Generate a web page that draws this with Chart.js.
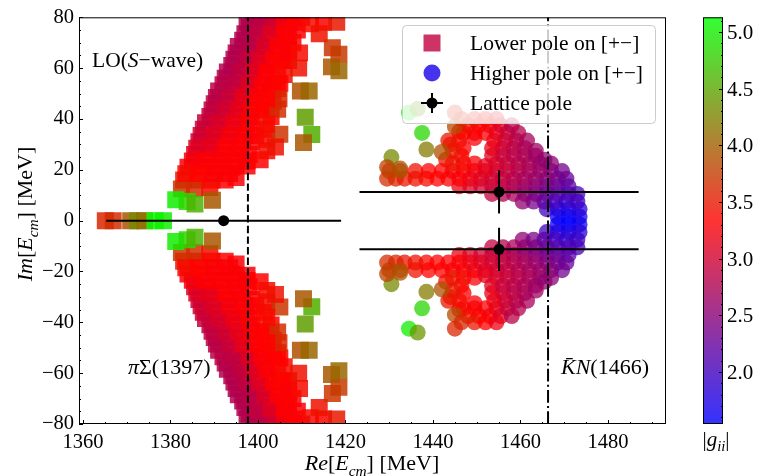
<!DOCTYPE html>
<html>
<head>
<meta charset="utf-8">
<script src="https://cdn.jsdelivr.net/npm/chart.js@4.4.0/dist/chart.umd.min.js"></script>
<style>
html, body { margin: 0; padding: 0; background: #fff; }
</style>
</head>
<body>
<canvas id="chart" width="758" height="476"></canvas>
<script>
// lower pole on [+-], upper half plane (the conjugate pole is at -Im)
var lowerRe = [1399, 1402, 1405, 1407.5, 1398, 1401, 1404, 1407, 1396.5, 1399.5, 1402.5, 1405.5,
    1395, 1398, 1401, 1404, 1394, 1397, 1400, 1403, 1392.5, 1395.5, 1398.5, 1401.5,
    1391, 1394, 1397, 1400.5, 1390, 1393, 1396, 1399, 1389, 1392, 1395, 1398.5,
    1387.5, 1390.5, 1394, 1397.5, 1386.5, 1389.5, 1393, 1396.5, 1398.5,
    1385.5, 1388.5, 1392, 1395.5, 1398, 1384, 1387, 1390.5, 1394, 1397.5,
    1383, 1386, 1389.5, 1392.5, 1395, 1382.5, 1385.5, 1389,
    1397.5, 1400.5, 1403.5, 1406, 1408.5, 1397, 1400, 1403, 1406,
    1395.5, 1398.5, 1401.5, 1404.5, 1407, 1394.5, 1397.5, 1400.5, 1403.5, 1406,
    1393, 1396, 1399, 1402, 1392, 1395, 1398, 1401, 1403.5,
    1390.5, 1393.5, 1396.5, 1399.5, 1389.5, 1392.5, 1395.5, 1398.5, 1401,
    1388, 1391, 1394.5, 1398, 1387, 1390, 1393.5, 1397, 1399.5,
    1386, 1389, 1392.5, 1396, 1385, 1388, 1391.5, 1395, 1397.5,
    1383.5, 1386.5, 1390, 1393.5,
    1404.5, 1403, 1402, 1405.5, 1406.5,
    1403.5, 1404.5, 1406, 1407, 1408, 1409, 1410, 1401.5, 1400.5, 1402, 1403,
    1381.2, 1383.8, 1385.6, 1389.6,
    1412, 1415, 1418, 1414, 1417, 1418.5, 1416.8, 1418.5, 1407, 1409.5, 1409.3,
    1405, 1409.7, 1411.7, 1404.5, 1404.8, 1410.8, 1412.3, 1410.4, 1405, 1402, 1404, 1402, 1402];
var lowerIm = [80, 80, 80, 80, 76, 76, 76, 76, 71, 71, 71, 71,
    66, 66, 66, 66, 61, 61, 61, 61, 56, 56, 56, 56,
    51, 51, 51, 51, 46, 46, 46, 46, 41, 41, 41, 41,
    36, 36, 36, 36, 31, 31, 31, 31, 31,
    26, 26, 26, 26, 26, 21, 21, 21, 21, 21.5,
    16, 16, 16, 16, 17, 12.5, 12.5, 13,
    78, 78, 78, 78, 78, 73.5, 73.5, 73.5, 73.5,
    68.5, 68.5, 68.5, 68.5, 68.5, 63.5, 63.5, 63.5, 63.5, 63.5,
    58.5, 58.5, 58.5, 58.5, 53.5, 53.5, 53.5, 53.5, 53.5,
    48.5, 48.5, 48.5, 48.5, 43.5, 43.5, 43.5, 43.5, 43.5,
    38.5, 38.5, 38.5, 38.5, 33.5, 33.5, 33.5, 33.5, 33.5,
    28.5, 28.5, 28.5, 28.5, 23.5, 23.5, 23.5, 23.5, 23.5,
    18.5, 18.5, 18.5, 18.5,
    57, 51, 44, 63, 73,
    47, 52, 57.5, 63, 70, 75, 80, 36, 24, 32, 41,
    8.2, 7.5, 6.5, 8,
    77.5, 78, 78, 73.5, 68, 65.5, 60.5, 59, 67, 66, 60,
    54, 51, 51, 43.8, 48, 40.7, 33.9, 30.7, 34, 27.5, 29, 38, 48];
var lowerG = [2.8, 2.9, 3.1, 3.3, 2.8, 2.9, 3.1, 3.3, 2.8, 2.9, 3.15, 3.3,
    2.8, 2.9, 3.1, 3.3, 2.8, 2.95, 3.2, 3.3, 2.8, 2.9, 3.1, 3.3,
    2.85, 2.95, 3.2, 3.3, 2.85, 2.95, 3.15, 3.3, 2.9, 3.0, 3.2, 3.3,
    2.95, 3.05, 3.25, 3.3, 3.0, 3.1, 3.25, 3.3, 3.35,
    3.1, 3.2, 3.3, 3.3, 3.3, 3.3, 3.3, 3.3, 3.35, 3.3,
    3.5, 3.45, 3.4, 3.35, 3.3, 3.7, 3.65, 3.4,
    2.8, 2.85, 3.0, 3.25, 3.35, 2.8, 2.9, 3.1, 3.3,
    2.8, 2.85, 3.05, 3.3, 3.35, 2.8, 2.9, 3.1, 3.3, 3.35,
    2.8, 2.9, 3.1, 3.3, 2.85, 2.9, 3.1, 3.3, 3.3,
    2.85, 2.95, 3.15, 3.3, 2.9, 3.0, 3.15, 3.3, 3.35,
    2.95, 3.05, 3.2, 3.3, 3.0, 3.1, 3.25, 3.3, 3.3,
    3.1, 3.15, 3.3, 3.3, 3.25, 3.3, 3.3, 3.3, 3.3,
    3.4, 3.35, 3.3, 3.3,
    3.3, 3.3, 3.35, 3.35, 3.3,
    3.35, 3.35, 3.4, 3.35, 3.35, 3.3, 3.3, 3.35, 3.35, 3.4, 3.35,
    5.0, 4.85, 4.6, 3.95,
    3.4, 3.35, 3.5, 3.45, 3.7, 3.75, 3.95, 4.05, 3.3, 3.4, 3.45,
    3.35, 3.9, 4.05, 3.65, 3.6, 4.45, 4.55, 3.95, 3.7, 3.4, 3.45, 3.4, 3.35];

// lower pole found on the real axis
var axisRe = [1365.1, 1366.9, 1370.9, 1372.5, 1374.1, 1376.5, 1378.4];
var axisIm = [0, 0, 0, 0, 0, 0, 0];
var axisG = [3.6, 3.65, 3.95, 4.3, 4.1, 5.1, 5.0];

// higher pole on [+-], upper half plane
var higherRe = [1468.5, 1471, 1473.5,
    1466, 1468.5, 1471, 1473.5,
    1460.5, 1463, 1465.5, 1468, 1470.5, 1473,
    1453.5, 1456, 1458.5, 1461, 1463.5, 1466, 1468.5, 1471, 1473,
    1446, 1448.5, 1451, 1453.5, 1456, 1458.5, 1461, 1463.5, 1466, 1468.5, 1471,
    1429.5, 1431.5, 1433.5, 1436, 1438.5, 1441, 1443.5, 1446, 1448.5, 1451, 1453.5, 1456, 1458.5, 1461, 1463.5, 1466, 1468.5, 1470.5,
    1430, 1432.5, 1436, 1439, 1442, 1444.5, 1447, 1449.5, 1452, 1454.5, 1457, 1459.5, 1462, 1464.5, 1467, 1469.5,
    1444.5, 1447, 1449.5, 1452, 1454.5, 1457, 1459.5, 1462, 1464.5, 1467,
    1446.5, 1453.5, 1456, 1458.5, 1461, 1463.5, 1465.5,
    1447, 1453.5, 1456, 1458.5, 1461, 1463.5, 1444,
    1446, 1454, 1456.5, 1459, 1461.5,
    1447, 1449.5, 1452, 1454.5, 1457, 1459.5,
    1448, 1450.5, 1453, 1455.5, 1458,
    1449.5, 1452, 1454.5,
    1443, 1444.5, 1443.5, 1446, 1449.5,
    1430.5, 1437.5, 1438.5, 1442, 1445, 1446.5, 1445, 1434.5, 1436.5, 1429.5, 1432.5];
var higherIm = [1.5, 1.5, 1.5,
    4.5, 4.5, 4.5, 4.5,
    7.5, 7.5, 7.5, 7.5, 7.5, 7.5,
    10.5, 10.5, 10.5, 10.5, 10.5, 10.5, 10.5, 10.5, 10.5,
    13.5, 13.5, 13.5, 13.5, 13.5, 13.5, 13.5, 13.5, 13.5, 13.5, 13.5,
    16.5, 16.5, 16.5, 16.5, 16.5, 16.5, 16.5, 16.5, 16.5, 16.5, 16.5, 16.5, 16.5, 16.5, 16.5, 16.5, 16.5, 16.5,
    19.5, 19.5, 19.5, 19.5, 19.5, 19.5, 19.5, 19.5, 19.5, 19.5, 19.5, 19.5, 19.5, 19.5, 19.5, 19.5,
    22.5, 22.5, 22.5, 21.5, 22.5, 22.5, 22.5, 22.5, 22.5, 22.5,
    25.5, 25.5, 25.5, 25.5, 25.5, 25.5, 24,
    28.5, 28.5, 28.5, 28.5, 28.5, 27.5, 30,
    31.5, 31.5, 31.5, 31.5, 31.5,
    34.5, 34.5, 34.5, 34.5, 34.5, 34.5,
    37.5, 37.5, 37.5, 37.5, 37.5,
    40, 40, 40,
    24, 27.5, 31.5, 35, 32.5,
    25, 34.5, 28, 27, 37, 40, 42.5, 42.5, 44, 21, 20.5];
var higherG = [1.6, 1.55, 1.65,
    2.0, 1.75, 1.7, 1.8,
    2.55, 2.4, 2.2, 2.0, 1.9, 1.95,
    2.9, 2.8, 2.7, 2.55, 2.4, 2.25, 2.1, 2.05, 2.05,
    3.2, 3.1, 3.0, 2.95, 2.85, 2.75, 2.6, 2.5, 2.35, 2.25, 2.15,
    3.65, 3.6, 3.5, 3.45, 3.4, 3.35, 3.3, 3.3, 3.2, 3.1, 3.0, 2.9, 2.8, 2.7, 2.6, 2.45, 2.35, 2.25,
    3.75, 3.85, 3.45, 3.35, 3.35, 3.3, 3.3, 3.2, 3.1, 3.0, 2.9, 2.8, 2.7, 2.6, 2.5, 2.35,
    3.5, 3.4, 3.3, 3.15, 3.05, 2.95, 2.85, 2.75, 2.65, 2.5,
    3.4, 3.1, 2.95, 2.85, 2.75, 2.65, 2.55,
    3.35, 3.15, 2.95, 2.85, 2.75, 2.65, 3.45,
    3.4, 3.2, 3.0, 2.85, 2.7,
    3.4, 3.35, 3.3, 3.15, 2.95, 2.8,
    3.45, 3.35, 3.25, 3.05, 2.85,
    3.5, 3.35, 3.2,
    3.45, 3.5, 3.5, 3.4, 3.3,
    4.3, 4.85, 4.2, 3.9, 3.85, 3.6, 3.6, 5.0, 4.4, 3.8, 3.9];

// lattice poles with errors
var latticeRe = [1392.15, 1455.1, 1455.1];
var latticeIm = [0, 11.3, -11.3];
var latticeReErr = [26.85, 31.9, 31.9];
var latticeImErr = [0, 8.5, 8.5];

// thresholds piSigma and KbarN
var thresholds = [1397.7, 1466.3];

var xTicks = [1360, 1380, 1400, 1420, 1440, 1460, 1480];
var yTicks = [-80, -60, -40, -20, 0, 20, 40, 60, 80];
var gTicks = [2.0, 2.5, 3.0, 3.5, 4.0, 4.5, 5.0];
var gMin = 1.54, gMax = 5.13;

var SERIF = '"Liberation Serif", "Times New Roman", serif';

// blue -> red -> green, as the colour bar
function gColor(g, alpha) {
    var t = Math.max(0, Math.min(1, (g - gMin) / (gMax - gMin)));
    var r, gr, b, u;
    if (t < 0.5) {
        u = t * 2;
        r = 255 * u; gr = 0; b = 255 * (1 - u);
    } else {
        u = t * 2 - 1;
        r = 255 * (1 - u); gr = 255 * u; b = 0;
    }
    return 'rgba(' + Math.round(r) + ',' + Math.round(gr) + ',' + Math.round(b) + ',' + alpha + ')';
}

function pts(re, im, sign) {
    return re.map(function (v, i) { return {x: v, y: sign * im[i]}; });
}

var squareData = pts(lowerRe, lowerIm, 1).concat(pts(lowerRe, lowerIm, -1), pts(axisRe, axisIm, 1));
var squareCols = lowerG.concat(lowerG, axisG).map(function (g) { return gColor(g, 0.85); });
var circleData = pts(higherRe, higherIm, 1).concat(pts(higherRe, higherIm, -1));
var circleCols = higherG.concat(higherG).map(function (g) { return gColor(g, 0.75); });

function segment(a, b, dash) {
    return {
        type: 'line', data: [a, b], showLine: true, borderColor: '#000', borderWidth: 2,
        borderDash: dash || [], pointRadius: 0, fill: false, order: 0, clip: 0
    };
}

var datasets = [];
datasets.push({
    label: 'Lattice pole',
    data: pts(latticeRe, latticeIm, 1),
    pointRadius: 5.5, pointBackgroundColor: '#000', pointBorderWidth: 0, showLine: false, order: 0
});
latticeRe.forEach(function (re, i) {
    datasets.push(segment({x: re - latticeReErr[i], y: latticeIm[i]}, {x: re + latticeReErr[i], y: latticeIm[i]}));
    if (latticeImErr[i] > 0) {
        datasets.push(segment({x: re, y: latticeIm[i] - latticeImErr[i]}, {x: re, y: latticeIm[i] + latticeImErr[i]}));
    }
});
datasets.push(segment({x: thresholds[0], y: -80}, {x: thresholds[0], y: 80}, [7.4, 3.2]));
datasets.push(segment({x: thresholds[1], y: -80}, {x: thresholds[1], y: 80}, [12.8, 3.2, 2, 3.2]));
datasets.push({
    label: 'Higher pole on [+\u2212]', data: circleData, pointStyle: 'circle', pointRadius: 8,
    pointBackgroundColor: circleCols, pointBorderWidth: 0, order: 1, clip: 0
});
datasets.push({
    label: 'Lower pole on [+\u2212]', data: squareData, pointStyle: 'rect', pointRadius: 12,
    pointBackgroundColor: squareCols, pointBorderWidth: 0, order: 2, clip: 0
});

function drawRuns(ctx, runs, x, y, size, align) {
    var total = 0;
    var parts = runs.map(function (r) {
        var st = r[1] || '';
        var sub = st.indexOf('s') >= 0;
        var fs = sub ? size * 0.7 : size;
        var font = (st.indexOf('i') >= 0 ? 'italic ' : '') + fs + 'px ' + SERIF;
        ctx.font = font;
        var w = ctx.measureText(r[0]).width;
        total += w;
        return {t: r[0], font: font, w: w, dy: sub ? size * 0.25 : 0};
    });
    var cx = align === 'center' ? x - total / 2 : x;
    ctx.textAlign = 'left';
    ctx.textBaseline = 'alphabetic';
    parts.forEach(function (p) {
        ctx.font = p.font;
        ctx.fillText(p.t, cx, y + p.dy);
        cx += p.w;
    });
}

var decor = {
    id: 'decor',
    beforeDraw: function (chart) {
        var ctx = chart.ctx;
        ctx.save();
        ctx.fillStyle = '#fff';
        ctx.fillRect(0, 0, chart.width, chart.height);
        ctx.restore();
    },
    afterDatasetsDraw: function (chart) {
        var ctx = chart.ctx, a = chart.chartArea;
        var sx = chart.scales.x, sy = chart.scales.y, sg = chart.scales.g;
        var v, p, len;
        ctx.save();
        ctx.fillStyle = '#000';
        ctx.strokeStyle = '#000';
        ctx.lineWidth = 1;
        ctx.strokeRect(a.left + 0.5, a.top + 0.5, a.right - a.left - 1, a.bottom - a.top - 1);

        // inward ticks, minor every 5
        ctx.beginPath();
        for (v = 1360; v <= 1490; v += 5) {
            p = Math.round(sx.getPixelForValue(v)) + 0.5;
            len = v % 20 === 0 ? 4 : 2;
            ctx.moveTo(p, a.bottom);
            ctx.lineTo(p, a.bottom - len);
        }
        for (v = -80; v <= 80; v += 5) {
            p = Math.round(sy.getPixelForValue(v)) + 0.5;
            len = v % 20 === 0 ? 4 : 2;
            ctx.moveTo(a.left, p);
            ctx.lineTo(a.left + len, p);
        }
        ctx.stroke();

        // legend
        var lx = 402, ly = 25, lw = 253, lh = 98;
        ctx.beginPath();
        ctx.roundRect(lx + 0.5, ly + 0.5, lw, lh, 4);
        ctx.fillStyle = 'rgba(255,255,255,0.8)';
        ctx.fill();
        ctx.strokeStyle = '#cccccc';
        ctx.stroke();
        ctx.fillStyle = gColor(2.9, 0.8);
        ctx.fillRect(432 - 8.5, 43 - 8.5, 17, 17);
        ctx.fillStyle = gColor(1.7, 0.8);
        ctx.beginPath();
        ctx.arc(432, 73, 8.5, 0, Math.PI * 2);
        ctx.fill();
        ctx.strokeStyle = '#000';
        ctx.lineWidth = 2;
        ctx.beginPath();
        ctx.moveTo(421, 103); ctx.lineTo(443, 103);
        ctx.moveTo(432, 93); ctx.lineTo(432, 113);
        ctx.stroke();
        ctx.fillStyle = '#000';
        ctx.beginPath();
        ctx.arc(432, 103, 5.5, 0, Math.PI * 2);
        ctx.fill();
        drawRuns(ctx, [['Lower pole on [+\u2212]']], 470, 50, 21.5);
        drawRuns(ctx, [['Higher pole on [+\u2212]']], 470, 80, 21.5);
        drawRuns(ctx, [['Lattice pole']], 470, 110, 21.5);

        // annotations
        drawRuns(ctx, [['LO('], ['S', 'i'], ['\u2212wave)']], 92, 67, 21.5);
        drawRuns(ctx, [['\u03c0', 'i'], ['\u03a3(1397)']], 128, 374, 22);
        drawRuns(ctx, [['K\u0304', 'i'], ['N', 'i'], ['(1466)']], 561, 374, 22);

        // axis titles
        drawRuns(ctx, [['Re', 'i'], ['['], ['E', 'i'], ['cm', 'is'], [']'], [' [MeV]']], 372, 470, 22, 'center');
        ctx.save();
        ctx.translate(32, 214);
        ctx.rotate(-Math.PI / 2);
        drawRuns(ctx, [['Im', 'i'], ['['], ['E', 'i'], ['cm', 'is'], [']'], [' [MeV]']], 0, 0, 22, 'center');
        ctx.restore();

        // colour bar on the g scale
        var cx0 = 703, cx1 = 723;
        var top = sg.getPixelForValue(gMax), bot = sg.getPixelForValue(gMin);
        var grad = ctx.createLinearGradient(0, bot, 0, top);
        for (var k = 0; k <= 40; k++) {
            grad.addColorStop(k / 40, gColor(gMin + (gMax - gMin) * k / 40, 0.8));
        }
        ctx.fillStyle = grad;
        ctx.fillRect(cx0, top, cx1 - cx0, bot - top);
        ctx.strokeStyle = '#000';
        ctx.lineWidth = 1;
        ctx.strokeRect(cx0 + 0.5, top + 0.5, cx1 - cx0 - 1, bot - top - 1);
        ctx.beginPath();
        for (v = 16; v <= 51; v++) {
            p = Math.round(sg.getPixelForValue(v / 10)) + 0.5;
            len = v % 5 === 0 ? 4 : 2;
            ctx.moveTo(cx1, p);
            ctx.lineTo(cx1 - len, p);
        }
        ctx.stroke();
        ctx.fillStyle = '#000';
        gTicks.forEach(function (t) {
            drawRuns(ctx, [[t.toFixed(1)]], 727, sg.getPixelForValue(t) + 7, 21);
        });
        drawRuns(ctx, [['|'], ['g', 'i'], ['ii', 'is'], ['|']], 716, 446, 21, 'center');
        ctx.restore();
    }
};

new Chart(document.getElementById('chart'), {
    type: 'scatter',
    data: {datasets: datasets},
    options: {
        responsive: false,
        animation: false,
        events: [],
        layout: {padding: {left: 0, right: 92, top: 15, bottom: 0}},
        plugins: {legend: {display: false}, tooltip: {enabled: false}},
        scales: {
            x: {
                type: 'linear', min: 1359.09, max: 1493.26,
                grid: {display: false, drawTicks: false}, border: {display: false},
                afterBuildTicks: function (s) { s.ticks = xTicks.map(function (v) { return {value: v}; }); },
                afterFit: function (s) { s.height = 52; },
                ticks: {color: '#000', padding: 6, font: {family: SERIF, size: 20.5}, maxRotation: 0,
                    callback: function (v) { return String(v); }}
            },
            y: {
                type: 'linear', min: -80, max: 80,
                grid: {display: false, drawTicks: false}, border: {display: false},
                afterBuildTicks: function (s) { s.ticks = yTicks.map(function (v) { return {value: v}; }); },
                afterFit: function (s) { s.width = 79; },
                ticks: {color: '#000', padding: 5, font: {family: SERIF, size: 20.5},
                    callback: function (v) { return String(v).replace('-', '\u2212'); }}
            },
            g: {type: 'linear', axis: 'y', min: gMin, max: gMax, display: false}
        }
    },
    plugins: [decor]
});
</script>
</body>
</html>
